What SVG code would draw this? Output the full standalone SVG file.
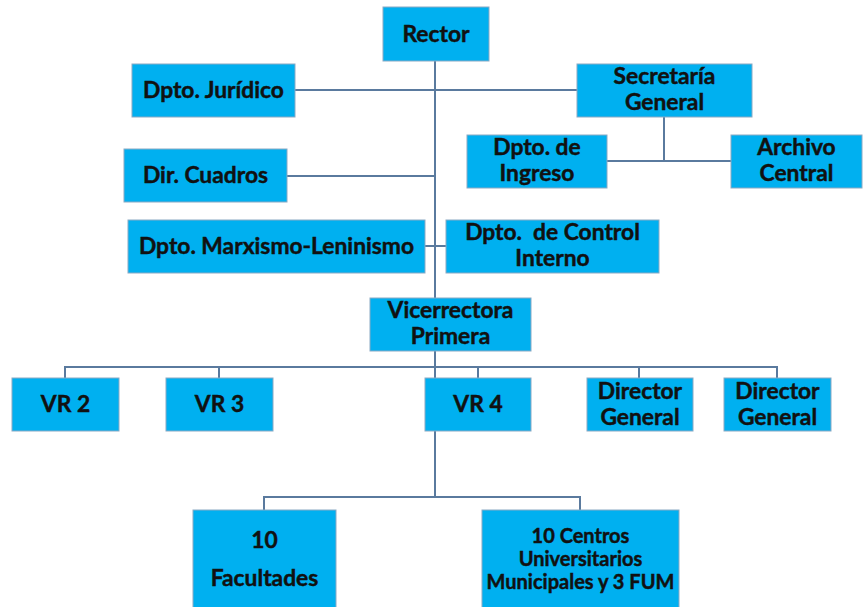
<svg xmlns="http://www.w3.org/2000/svg" width="863" height="607" viewBox="0 0 863 607">
<style>
.b{fill:#00B0F0;stroke:#8aa9c4;stroke-width:1}
.t{font-family:Lato,"Open Sans","Liberation Sans",sans-serif;font-weight:bold;font-size:22.8px;fill:#111;stroke:#111;stroke-width:0.45;text-anchor:middle}
.s{font-size:20px}
.c{fill:none;stroke:#5a7a9e;stroke-width:2}
</style>
<rect width="863" height="607" fill="#fff"/>
<g id="connectors">
<path class="c" d="M435 61V497"/>
<path class="c" d="M295 90H577"/>
<path class="c" d="M664 117V161M607 161H731"/>
<path class="c" d="M287 176H435"/>
<path class="c" d="M425 246H446"/>
<path class="c" d="M65 378V367H777V378M219 367V378M478 367V378M639 367V378"/>
<path class="c" d="M264 510V497H580V510"/>
</g>
<g id="rector"><rect class="b" x="383" y="7" width="106" height="54"/><text class="t" x="436" y="42">Rector</text></g>
<g id="juridico"><rect class="b" x="132" y="64" width="163" height="53"/><text class="t" x="213.5" y="98">Dpto. Jurídico</text></g>
<g id="secretaria"><rect class="b" x="577" y="64" width="175" height="53"/><text class="t" x="664.5" y="84">Secretaría</text><text class="t" x="664.5" y="110">General</text></g>
<g id="ingreso"><rect class="b" x="467" y="135" width="140" height="53"/><text class="t" x="537" y="155">Dpto. de</text><text class="t" x="537" y="181">Ingreso</text></g>
<g id="archivo"><rect class="b" x="731" y="135" width="131" height="53"/><text class="t" x="796.5" y="155">Archivo</text><text class="t" x="796.5" y="181">Central</text></g>
<g id="cuadros"><rect class="b" x="124" y="149" width="163" height="53"/><text class="t" x="205.5" y="183">Dir. Cuadros</text></g>
<g id="marxismo"><rect class="b" x="128" y="220" width="297" height="53"/><text class="t" x="276.5" y="254">Dpto. Marxismo-Leninismo</text></g>
<g id="control"><rect class="b" x="446" y="220" width="213" height="53"/><text class="t" x="552.5" y="240" xml:space="preserve">Dpto.  de Control</text><text class="t" x="552.5" y="266">Interno</text></g>
<g id="vicerrectora"><rect class="b" x="370" y="298" width="161" height="53"/><text class="t" x="450.5" y="318">Vicerrectora</text><text class="t" x="450.5" y="344">Primera</text></g>
<g id="vr2"><rect class="b" x="12" y="378" width="107" height="53"/><text class="t" x="65.5" y="412">VR 2</text></g>
<g id="vr3"><rect class="b" x="166" y="378" width="107" height="53"/><text class="t" x="219.5" y="412">VR 3</text></g>
<g id="vr4"><rect class="b" x="425" y="378" width="106" height="53"/><text class="t" x="478" y="412">VR 4</text></g>
<g id="dg1"><rect class="b" x="587" y="378" width="106" height="53"/><text class="t" x="640" y="399">Director</text><text class="t" x="640" y="425">General</text></g>
<g id="dg2"><rect class="b" x="724" y="378" width="107" height="53"/><text class="t" x="777.5" y="399">Director</text><text class="t" x="777.5" y="425">General</text></g>
<g id="facultades"><rect class="b" x="193" y="510" width="143" height="100"/><text class="t" x="264.5" y="548">10</text><text class="t" x="264.5" y="586">Facultades</text></g>
<g id="centros"><rect class="b" x="482" y="510" width="197" height="100"/><text class="t s" x="580.5" y="543">10 Centros</text><text class="t s" x="580.5" y="566">Universitarios</text><text class="t s" x="580.5" y="589">Municipales y 3 FUM</text></g>
</svg>
